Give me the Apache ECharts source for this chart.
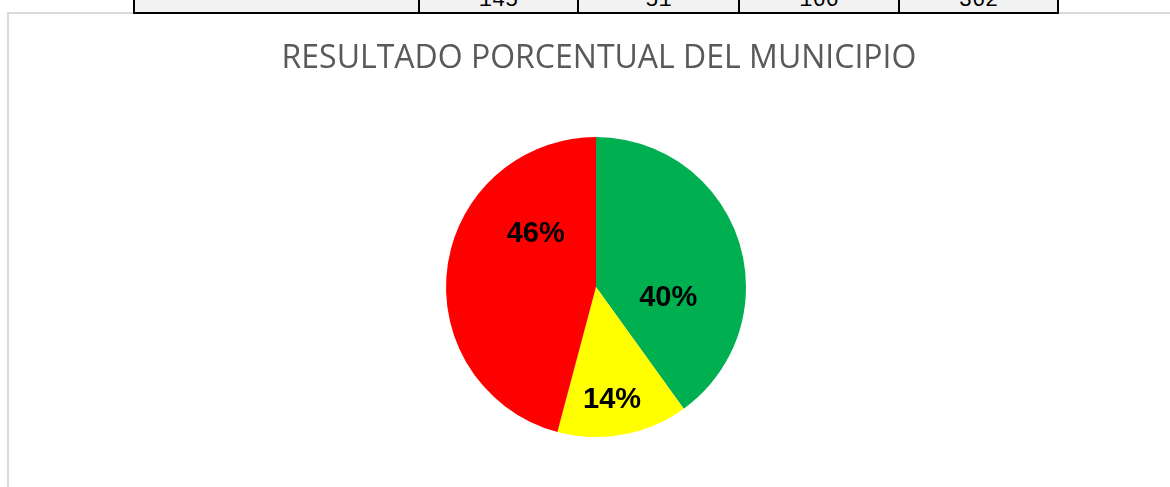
<!DOCTYPE html>
<html>
<head>
<meta charset="utf-8">
<script src="https://cdn.jsdelivr.net/npm/echarts@6/dist/echarts.min.js"></script>
<style>
  html, body { margin:0; padding:0; background:#ffffff; width:1170px; height:487px; overflow:hidden; }
  #chart { position:absolute; left:0; top:0; width:1170px; height:487px; }
  #frameTop { position:absolute; left:7px; top:12px; width:1170px; height:2px; background:#dadada; }
  #frameLeft { position:absolute; left:7px; top:12px; width:2px; height:480px; background:#dadada; }
  .cell { position:absolute; top:-30px; height:40px; border:2px solid #000; background:#f2f2f2; box-sizing:content-box;
          font-family:"Liberation Mono","DejaVu Sans Mono",monospace; font-size:22px; text-align:center; overflow:hidden; }
  .cell span { position:absolute; left:0; right:0; top:18px; line-height:22px; }
</style>
</head>
<body>
<div id="chart"></div>
<div id="frameTop"></div>
<div id="frameLeft"></div>
<div id="tbl"></div>
<script>
// Data
const categories = ['Verde', 'Amarillo', 'Rojo'];
const counts = [145, 51, 166];
const total = 362;
const tableCells = ['', '145', '51', '166', '362'];
const colors = ['#00b050', '#ffff00', '#ff0000'];
const titleText = 'RESULTADO PORCENTUAL DEL MUNICIPIO';

// table fragment (column edges)
const edges = [133, 418, 577, 738, 898, 1057];
const tbl = document.getElementById('tbl');
tableCells.forEach((t, i) => {
  const d = document.createElement('div');
  d.className = 'cell';
  d.style.left = edges[i] + 'px';
  d.style.width = (edges[i + 1] - edges[i] - 2) + 'px';
  d.innerHTML = '<span>' + t + '</span>';
  tbl.appendChild(d);
});

const labelShift = [[-2, 35], [2, 36], [17, -43]];

const chart = echarts.init(document.getElementById('chart'), null, { renderer: 'canvas' });
chart.setOption({
  animation: false,
  backgroundColor: 'transparent',
  title: {
    text: titleText,
    left: 594,
    textAlign: 'center',
    top: 38,
    textStyle: { fontFamily: 'Open Sans', fontSize: 32, fontWeight: 'normal', color: '#595959' }
  },
  series: [{
    type: 'pie',
    center: [596, 287],
    radius: [0, 150],
    startAngle: 90,
    clockwise: true,
    avoidLabelOverlap: false,
    itemStyle: { borderWidth: 0 },
    label: {
      show: true,
      position: 'inside',
      formatter: p => Math.round(p.value / total * 100) + '%',
      fontFamily: 'Liberation Sans',
      fontWeight: 'bold',
      fontSize: 29,
      color: '#000000'
    },
    labelLine: { show: false },
    labelLayout: function (params) {
      const s = labelShift[params.dataIndex];
      return { dx: s[0], dy: s[1] };
    },
    emphasis: { disabled: true },
    data: categories.map((c, i) => ({ name: c, value: counts[i], itemStyle: { color: colors[i] } }))
  }]
});
</script>
</body>
</html>
